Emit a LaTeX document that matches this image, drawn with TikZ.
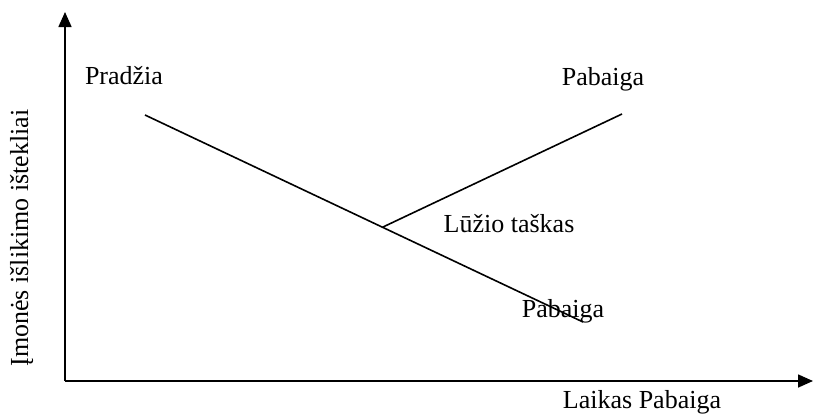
\documentclass[tikz,border=0pt]{standalone}
\usepackage{fontspec}
\setmainfont{Liberation Serif}
\usetikzlibrary{arrows.meta}
\tikzset{
  axis/.style={line width=1.6pt, -{Triangle[length=15pt,width=13pt]}},
  curve/.style={line width=1.6pt},
  lbl/.style={anchor=base, inner sep=0pt, font=\fontsize{26}{30}\selectfont}
}
\begin{document}
\begin{tikzpicture}[x=1pt,y=-1pt]
\useasboundingbox (0,0) rectangle (813,418);
% axes
\coordinate (origin) at (65,381);
\coordinate (ytop) at (65,12);
\coordinate (xend) at (813,381);
\draw[axis] (origin) -- (ytop);
\draw[axis] (origin) -- (xend);
% decline line and the branch leaving it at the break point
\coordinate (start) at (145,115);
\coordinate (low) at (583,322);
\coordinate (brk) at (383,227);
\coordinate (high) at (622,114);
\draw[curve] (start) -- (low);
\draw[curve] (brk) -- (high);
% labels
\node[lbl] (pradzia) at (124,84) {Pradžia};
\node[lbl] (pabtop) at (603,85) {Pabaiga};
\node[lbl] (luzis) at (509,232) {Lūžio taškas};
\node[lbl] (pablow) at (563,317) {Pabaiga};
\node[lbl] (laikas) at (642,408) {Laikas Pabaiga};
\node[lbl, rotate=90] (istekliai) at (28,238) {Įmonės išlikimo ištekliai};
\end{tikzpicture}
\end{document}
